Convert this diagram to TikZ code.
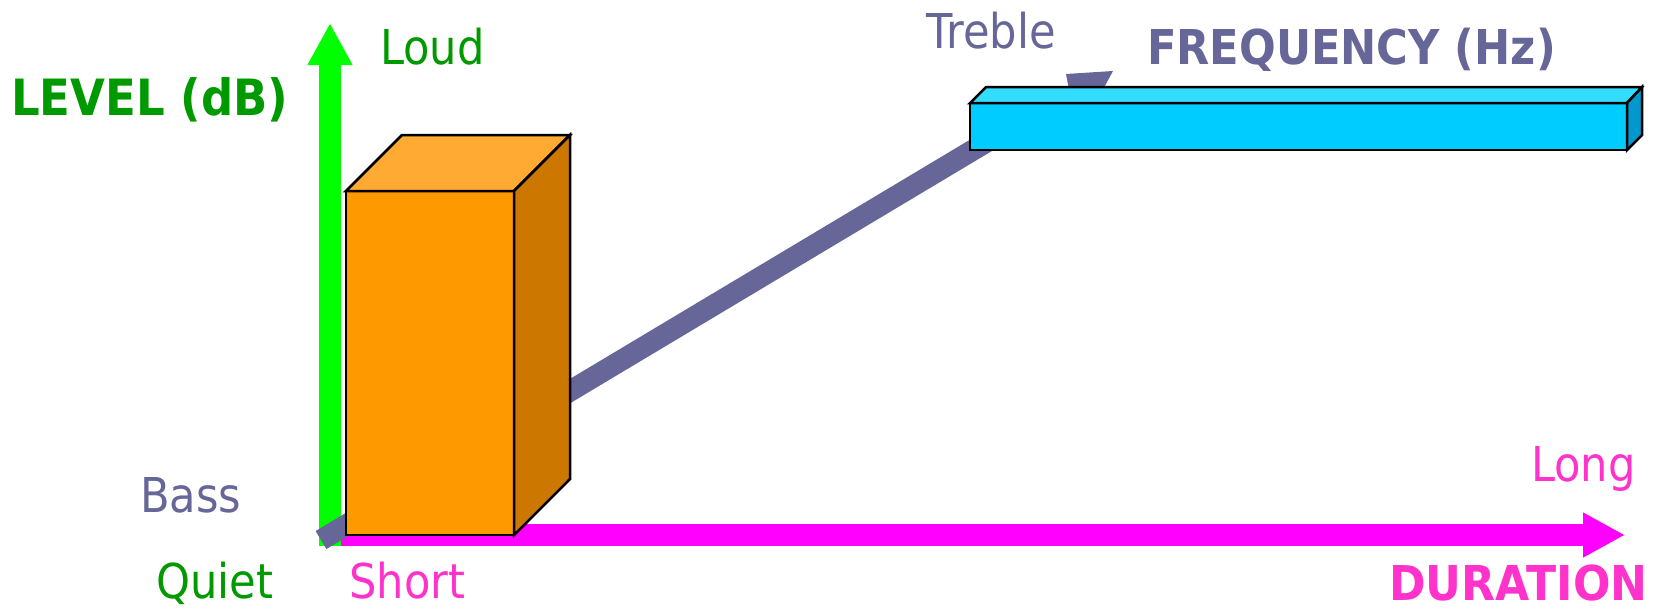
\documentclass[tikz,border=0pt]{standalone}
\usepackage{fontspec}
\newfontfamily\labelfont[FakeStretch=0.9]{DejaVu Sans}
\usetikzlibrary{arrows.meta}
\definecolor{levelgreen}{HTML}{009900}
\definecolor{axisgreen}{HTML}{00FF00}
\definecolor{axismagenta}{HTML}{FF00FF}
\definecolor{durpink}{HTML}{FF33CC}
\definecolor{freqpurple}{HTML}{666699}
\definecolor{boxfront}{HTML}{FF9900}
\definecolor{boxtop}{HTML}{FFAA33}
\definecolor{boxside}{HTML}{CC7700}
\definecolor{barfront}{HTML}{00CCFF}
\definecolor{bartop}{HTML}{33DDFF}
\definecolor{barside}{HTML}{0099CC}
\tikzset{
  axislabel/.style={inner sep=0pt, anchor=base west, font=\labelfont\fontsize{48}{50}\selectfont},
  axistitle/.style={axislabel, font=\labelfont\bfseries\fontsize{48}{50}\selectfont},
  faceedge/.style={draw=black, line width=2.5pt}
}
\begin{document}
\begin{tikzpicture}[x=1pt,y=-1pt]
\useasboundingbox (0,0) rectangle (1659,611);
\draw[axismagenta, line width=22pt, -{Triangle[length=42pt,width=42pt]}] (319,535) -- (1625,535);
\draw[axisgreen, line width=22pt, -{Triangle[length=42pt,width=42pt]}] (330,546) -- (330,23);
\draw[freqpurple, line width=21pt] (321,540) -- (1030,116);
\fill[freqpurple] (1066,74) -- (1113,71) -- (1100,95) -- (1070,95) -- cycle;
\filldraw[faceedge, fill=boxfront] (346,191) rectangle (514,535);
\filldraw[faceedge, fill=boxtop] (346,191) -- (402,135) -- (570,135) -- (514,191) -- cycle;
\filldraw[faceedge, fill=boxside] (514,191) -- (570,135) -- (570,479) -- (514,535) -- cycle;
\filldraw[faceedge, fill=barfront] (970,103) rectangle (1627,150);
\filldraw[faceedge, fill=bartop] (970,103) -- (986,87) -- (1642,87) -- (1627,103) -- cycle;
\filldraw[faceedge, fill=barside] (1627,103) -- (1642,87) -- (1642,135) -- (1627,150) -- cycle;
\node[axislabel, levelgreen] (loud) at (380,64) {Loud};
\node[axistitle, levelgreen, font=\labelfont\bfseries\fontsize{50}{52}\selectfont] (level) at (11,115) {LEVEL (dB)};
\node[axislabel, freqpurple] (treble) at (926,48) {Treble};
\node[axistitle, freqpurple] (freq) at (1147,64) {FREQUENCY (Hz)};
\node[axislabel, freqpurple] (bass) at (140,512) {Bass};
\node[axislabel, levelgreen] (quiet) at (156,598) {Quiet};
\node[axislabel, durpink] (short) at (349,598) {Short};
\node[axislabel, durpink] (long) at (1531,481) {Long};
\node[axistitle, durpink, font=\labelfont\bfseries\fontsize{48}{50}\selectfont\addfontfeatures{FakeStretch=0.92}] (duration) at (1389,600) {DURATION};
\end{tikzpicture}
\end{document}
